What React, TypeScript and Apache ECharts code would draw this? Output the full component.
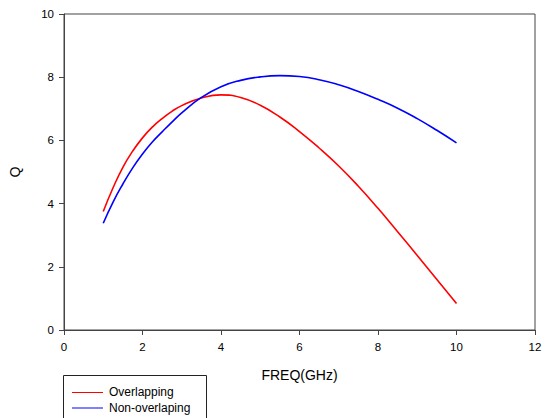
import React, { useEffect, useRef } from "react";
import * as echarts from "echarts";

const freq = [1, 1.25, 1.5, 1.75, 2, 2.25, 2.5, 2.75, 3, 3.5, 4, 4.5, 5, 5.5, 6, 6.5, 7, 7.5, 8, 8.5, 9, 9.5, 10];
const overlapping = [3.75, 4.5, 5.15, 5.66, 6.08, 6.42, 6.69, 6.92, 7.1, 7.34, 7.44, 7.36, 7.11, 6.74, 6.28, 5.76, 5.19, 4.55, 3.85, 3.11, 2.36, 1.6, 0.84];
const nonOverlapping = [3.38, 4.05, 4.62, 5.13, 5.57, 5.95, 6.27, 6.58, 6.87, 7.36, 7.7, 7.9, 8.01, 8.05, 8.02, 7.92, 7.76, 7.55, 7.3, 7.02, 6.69, 6.32, 5.92];
const seriesNames = ["Overlapping", "Non-overlaping"];
const seriesColors = ["#ff0000", "#0000ff"];

export default function App() {
  const ref = useRef<HTMLDivElement>(null);
  useEffect(() => {
    if (!ref.current) return;
    const chart = echarts.init(ref.current, null, { renderer: "svg" });
    const font = "Liberation Sans, Arial, sans-serif";
    chart.setOption({
      animation: false,
      backgroundColor: "#ffffff",
      textStyle: { fontFamily: font },
      grid: {
        left: 63,
        right: 12,
        top: 14,
        bottom: 88,
        show: true,
        borderColor: "#444",
        borderWidth: 1,
        backgroundColor: "transparent",
      },
      xAxis: {
        type: "value",
        min: 0,
        max: 12,
        interval: 2,
        name: "FREQ(GHz)",
        nameLocation: "middle",
        nameGap: 38,
        nameTextStyle: { fontSize: 14, color: "#000", fontFamily: font },
        axisLine: { show: true, lineStyle: { color: "#444", width: 1 } },
        axisTick: { show: true, length: 5, inside: false, lineStyle: { color: "#444" } },
        axisLabel: { fontSize: 11.5, color: "#000", margin: 11, fontFamily: font },
        splitLine: { show: false },
      },
      yAxis: {
        type: "value",
        min: 0,
        max: 10,
        interval: 2,
        name: "Q",
        nameLocation: "middle",
        nameGap: 42,
        nameTextStyle: { fontSize: 14, color: "#000", fontFamily: font },
        axisLine: { show: true, lineStyle: { color: "#444", width: 1 } },
        axisTick: { show: true, length: 5, inside: false, lineStyle: { color: "#444" } },
        axisLabel: { fontSize: 11.5, color: "#000", margin: 10, fontFamily: font },
        splitLine: { show: false },
      },
      series: [
        {
          name: seriesNames[0],
          type: "line",
          data: freq.map((f, i) => [f, overlapping[i]]),
          smooth: true,
          symbol: "none",
          lineStyle: { color: seriesColors[0], width: 1.6 },
          itemStyle: { color: seriesColors[0] },
        },
        {
          name: seriesNames[1],
          type: "line",
          data: freq.map((f, i) => [f, nonOverlapping[i]]),
          smooth: true,
          symbol: "none",
          lineStyle: { color: seriesColors[1], width: 1.6 },
          itemStyle: { color: seriesColors[1] },
        },
      ],
      graphic: [
        {
          type: "rect",
          shape: { x: 63.5, y: 375.5, width: 143, height: 60 },
          style: { fill: "#fff", stroke: "#222", lineWidth: 1 },
        },
        {
          type: "line",
          shape: { x1: 72, y1: 392.5, x2: 103, y2: 392.5 },
          style: { stroke: seriesColors[0], lineWidth: 1 },
        },
        {
          type: "text",
          x: 109,
          y: 392,
          style: { text: seriesNames[0], fontSize: 12, fill: "#000", fontFamily: font, verticalAlign: "middle" },
        },
        {
          type: "line",
          shape: { x1: 72, y1: 408, x2: 103, y2: 408 },
          style: { stroke: "#7f7fff", lineWidth: 2 },
        },
        {
          type: "text",
          x: 109,
          y: 408,
          style: { text: seriesNames[1], fontSize: 12, fill: "#000", fontFamily: font, verticalAlign: "middle" },
        },
      ],
    });
    return () => chart.dispose();
  }, []);
  return <div ref={ref} style={{ width: 547, height: 418, position: "fixed", left: 0, top: 0 }} />;
}
